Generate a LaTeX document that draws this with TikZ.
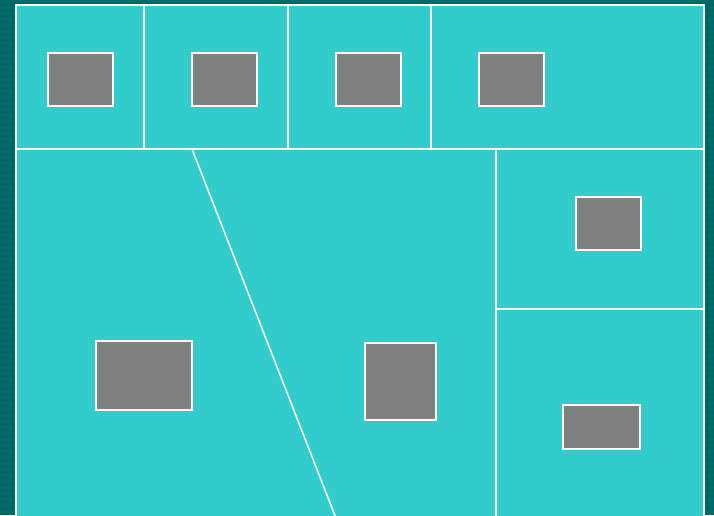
\documentclass[tikz,border=0pt]{standalone}
\usepackage{tikz}
\definecolor{deepteal}{HTML}{006664}
\definecolor{stripeteal}{HTML}{006C69}
\definecolor{panelcyan}{HTML}{33CCCC}
\definecolor{blockgray}{HTML}{808080}
\tikzset{
    block/.style={draw=white, line width=1.5pt, fill=blockgray, inner sep=0pt, outer sep=0pt, anchor=north west},
    divider/.style={draw=white, line width=1.5pt}
}
\begin{document}
\begin{tikzpicture}[x=1pt, y=-1pt]
    % Variables for the panel size
    \def\panelleft{16}
    \def\panelright{704}
    \def\paneltop{5}
    \def\panelbottom{515}
    \def\rowline{149}

    % Background with stripes
    \useasboundingbox (0,0) rectangle (714,515);
    \fill[deepteal] (0,0) rectangle (714,515);
    \foreach \y in {0,6,...,512} {
        \fill[stripeteal] (0,\y) rectangle (714,\y+3);
    }

    % Draw the main panel
    \fill[panelcyan] (\panelleft,\paneltop) rectangle (\panelright,\panelbottom+2);
    \draw[divider] (\panelleft,\panelbottom+2) -- (\panelleft,\paneltop) -- (\panelright,\paneltop) -- (\panelright,\panelbottom+2);

    % Draw the dividing lines
    \draw[divider] (\panelleft,\rowline) -- (\panelright,\rowline);
    \foreach \x in {144,288,431} {
        \draw[divider] (\x,\paneltop) -- (\x,\rowline);
    }
    \draw[divider] (496,\rowline) -- (496,\panelbottom+2);
    \draw[divider] (496,309) -- (\panelright,309);
    \draw[divider] (192,\rowline) -- (335.5,\panelbottom+2);

    % Gray blocks in the top row
    \node[block, minimum width=65pt, minimum height=53pt] (top1) at (48,53) {};
    \node[block, minimum width=65pt, minimum height=53pt] (top2) at (192,53) {};
    \node[block, minimum width=65pt, minimum height=53pt] (top3) at (336,53) {};
    \node[block, minimum width=65pt, minimum height=53pt] (top4) at (479,53) {};

    % Gray blocks in the lower part
    \node[block, minimum width=96pt, minimum height=69pt] (left) at (96,341) {};
    \node[block, minimum width=71pt, minimum height=77pt] (middle) at (365,343) {};
    \node[block, minimum width=65pt, minimum height=53pt] (upperright) at (576,197) {};
    \node[block, minimum width=77pt, minimum height=44pt] (lowerright) at (563,405) {};

\end{tikzpicture}
\end{document}
